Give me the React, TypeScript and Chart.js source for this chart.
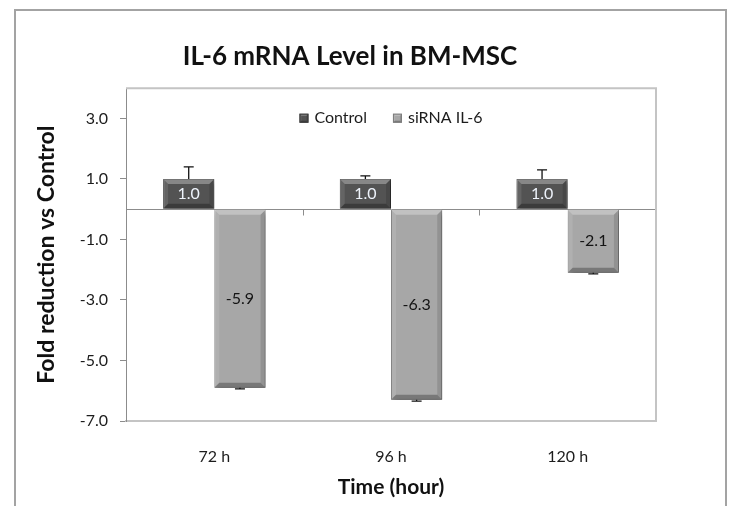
import React, { useEffect, useRef } from 'react';
import { Chart, registerables } from 'chart.js';

Chart.register(...registerables);

// Chart data
const categories = ['72 h', '96 h', '120 h'];
const seriesNames = ['Control', 'siRNA IL-6'];
const controlValues = [1.0, 1.0, 1.0];
const sirnaValues = [-5.9, -6.3, -2.1];
const controlErrors = [0.4, 0.1, 0.3];
const sirnaErrors = [0.04, 0.04, 0.04];
const yTickValues = [-7, -5, -3, -1, 1, 3];
const yMin = -7;
const yMax = 4;

const FONT = 'Lato, "Open Sans", sans-serif';
const fills = ['#535353', '#a7a7a7'];
const edges = ['#3a3a3a', '#7c7c7c'];
const errorSets = [controlErrors, sirnaErrors];
const labelColors = ['#eef3fb', '#141414'];

function poly(ctx: CanvasRenderingContext2D, pts: number[][], fill: string) {
  ctx.beginPath();
  ctx.moveTo(pts[0][0], pts[0][1]);
  for (let i = 1; i < pts.length; i++) ctx.lineTo(pts[i][0], pts[i][1]);
  ctx.closePath();
  ctx.fillStyle = fill;
  ctx.fill();
}

function bevel(ctx: CanvasRenderingContext2D, l: number, t: number, r: number, b: number, size: number) {
  const d = Math.min(size, (b - t) / 2, (r - l) / 2);
  poly(ctx, [[l, t], [r, t], [r - d, t + d], [l + d, t + d]], 'rgba(255,255,255,0.30)');
  poly(ctx, [[l, t], [l + d, t + d], [l + d, b - d], [l, b]], 'rgba(255,255,255,0.10)');
  poly(ctx, [[r, t], [r, b], [r - d, b - d], [r - d, t + d]], 'rgba(0,0,0,0.12)');
  poly(ctx, [[l, b], [l + d, b - d], [r - d, b - d], [r, b]], 'rgba(0,0,0,0.28)');
}

const decorations = {
  id: 'decorations',
  beforeDraw(chart: any) {
    const ctx = chart.ctx;
    ctx.save();
    ctx.fillStyle = '#ffffff';
    ctx.fillRect(0, 0, chart.width, chart.height);
    // outer chart frame
    ctx.strokeStyle = '#a3a3a3';
    ctx.lineWidth = 2;
    ctx.strokeRect(15, 10, 711, 520);
    ctx.restore();
  },
  beforeDatasetsDraw(chart: any) {
    const ctx = chart.ctx;
    ctx.save();
    ctx.shadowColor = 'rgba(0,0,0,0.35)';
    ctx.shadowBlur = 5;
    ctx.shadowOffsetX = 2;
    ctx.shadowOffsetY = 3;
  },
  afterDatasetsDraw(chart: any) {
    const ctx = chart.ctx;
    ctx.restore();
    const area = chart.chartArea;
    const xs = chart.scales.x;
    const ys = chart.scales.y;

    ctx.save();
    // plot area frame (top and right)
    ctx.strokeStyle = '#c4c4c4';
    ctx.lineWidth = 2;
    ctx.beginPath();
    ctx.moveTo(area.left, area.top);
    ctx.lineTo(area.right, area.top);
    ctx.lineTo(area.right, area.bottom);
    ctx.stroke();

    // category tick marks on the zero line
    const y0 = Math.round(ys.getPixelForValue(0)) + 0.5;
    ctx.strokeStyle = '#8c8c8c';
    ctx.lineWidth = 1;
    for (let i = 0; i < categories.length - 1; i++) {
      const xm = Math.round((xs.getPixelForValue(i) + xs.getPixelForValue(i + 1)) / 2) + 0.5;
      ctx.beginPath();
      ctx.moveTo(xm, y0);
      ctx.lineTo(xm, y0 + 6);
      ctx.stroke();
    }

    chart.data.datasets.forEach((ds: any, di: number) => {
      const meta = chart.getDatasetMeta(di);
      meta.data.forEach((bar: any, i: number) => {
        const { x, y, base, width } = bar.getProps(['x', 'y', 'base', 'width'], true);
        const l = x - width / 2;
        const r = x + width / 2;
        const t = Math.min(y, base);
        const b = Math.max(y, base);
        bevel(ctx, l, t, r, b, 5);

        // error bar
        const v = ds.data[i];
        const e = errorSets[di][i];
        const dir = v >= 0 ? 1 : -1;
        const yEnd = ys.getPixelForValue(v + dir * e);
        ctx.strokeStyle = '#111';
        ctx.lineWidth = 1.3;
        ctx.beginPath();
        ctx.moveTo(x, y);
        ctx.lineTo(x, yEnd);
        ctx.moveTo(x - 5, yEnd);
        ctx.lineTo(x + 5, yEnd);
        ctx.stroke();

        // value label
        ctx.fillStyle = labelColors[di];
        ctx.font = `16px ${FONT}`;
        ctx.textAlign = 'center';
        ctx.textBaseline = 'middle';
        ctx.fillText(Number(v).toFixed(1), x, (t + b) / 2);
      });
    });

    // legend inside the plot area
    ctx.font = `16px ${FONT}`;
    const box = 9;
    const gapBox = 6;
    const gapItem = 26;
    const labels = chart.data.datasets.map((d: any) => d.label);
    const widths = labels.map((n: string) => box + gapBox + ctx.measureText(n).width);
    const total = widths.reduce((a: number, w: number) => a + w, 0) + gapItem * (labels.length - 1);
    let lx = (area.left + area.right) / 2 - total / 2;
    const ly = area.top + 30;
    labels.forEach((n: string, k: number) => {
      ctx.fillStyle = fills[k];
      ctx.fillRect(lx, ly - box / 2, box, box);
      bevel(ctx, lx, ly - box / 2, lx + box, ly + box / 2, 2);
      ctx.strokeStyle = edges[k];
      ctx.lineWidth = 1;
      ctx.strokeRect(lx + 0.5, ly - box / 2 + 0.5, box - 1, box - 1);
      ctx.fillStyle = '#1c1c1c';
      ctx.textAlign = 'left';
      ctx.textBaseline = 'middle';
      ctx.fillText(n, lx + box + gapBox, ly);
      lx += widths[k] + gapItem;
    });
    ctx.restore();
  },
};

export default function App() {
  const canvasRef = useRef<HTMLCanvasElement | null>(null);

  useEffect(() => {
    const canvas = canvasRef.current;
    if (!canvas) return;
    const chart = new Chart(canvas, {
      type: 'bar',
      data: {
        labels: categories,
        datasets: [
          {
            label: seriesNames[0],
            data: controlValues,
            backgroundColor: fills[0],
            borderColor: edges[0],
            borderWidth: 1,
            categoryPercentage: 0.58,
            barPercentage: 1.0,
          },
          {
            label: seriesNames[1],
            data: sirnaValues,
            backgroundColor: fills[1],
            borderColor: edges[1],
            borderWidth: 1,
            categoryPercentage: 0.58,
            barPercentage: 1.0,
          },
        ],
      },
      options: {
        responsive: false,
        maintainAspectRatio: false,
        animation: false,
        layout: { padding: { left: 44, right: 74, top: 0, bottom: 0 } },
        plugins: {
          legend: { display: false },
          tooltip: { enabled: false },
          title: {
            display: true,
            text: 'IL-6 mRNA Level in BM-MSC',
            color: '#111',
            font: { family: FONT, size: 26, weight: 'bold', lineHeight: 1.2 },
            padding: { top: 41, bottom: 16 },
          },
        },
        scales: {
          x: {
            grid: { display: false },
            border: { display: true, color: '#c4c4c4', width: 2 },
            ticks: { color: '#1c1c1c', font: { family: FONT, size: 16 }, padding: 18 },
            title: {
              display: true,
              text: 'Time (hour)',
              color: '#111',
              font: { family: FONT, size: 21, weight: 'bold', lineHeight: 1.2 },
              padding: { top: 0, bottom: 6 },
            },
            afterFit: (s: any) => {
              s.height = 85;
            },
          },
          y: {
            min: yMin,
            max: yMax,
            afterBuildTicks: (s: any) => {
              s.ticks = [...yTickValues, 0].sort((a, b) => a - b).map((value) => ({ value }));
            },
            ticks: {
              color: '#1c1c1c',
              font: { family: FONT, size: 16 },
              padding: 12,
              callback: (v: any) => (Number(v) === 0 ? '' : Number(v).toFixed(1)),
            },
            grid: {
              drawOnChartArea: true,
              lineWidth: 1,
              tickLength: 6,
              color: (c: any) => (c.tick && c.tick.value === 0 ? '#8c8c8c' : 'rgba(0,0,0,0)'),
              tickColor: (c: any) => (c.tick && c.tick.value === 0 ? 'rgba(0,0,0,0)' : '#8c8c8c'),
            },
            border: { display: true, color: '#8c8c8c', width: 1 },
            title: {
              display: true,
              text: 'Fold reduction vs Control',
              color: '#111',
              font: { family: FONT, size: 23, weight: 'bold', lineHeight: 1.2 },
              padding: { top: -11, bottom: 0 },
            },
            afterFit: (s: any) => {
              s.width = 82;
            },
          },
        },
      },
      plugins: [decorations],
    });
    return () => chart.destroy();
  }, []);

  return (
    <div style={{ position: 'fixed', left: 0, top: 0, width: 730, height: 506, background: '#fff' }}>
      <canvas ref={canvasRef} width={730} height={506} style={{ display: 'block' }} />
    </div>
  );
}
